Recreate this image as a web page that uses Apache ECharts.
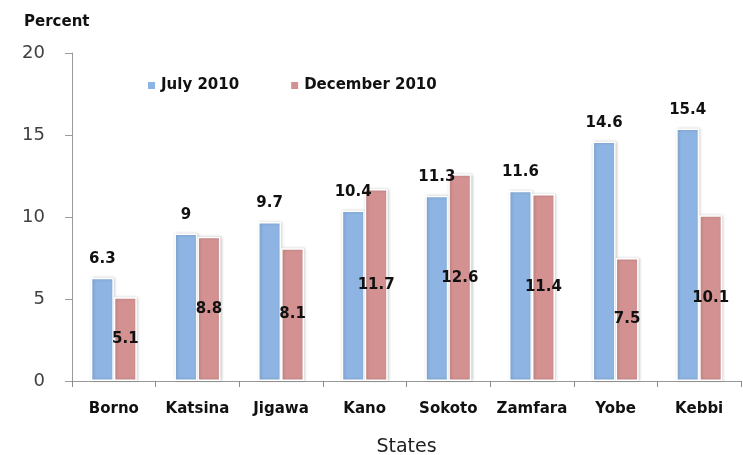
<!DOCTYPE html>
<html>
<head>
<meta charset="utf-8">
<script src="https://cdn.jsdelivr.net/npm/echarts@6/dist/echarts.min.js"></script>
<style>
html,body{margin:0;padding:0;background:#fff;}
#main{width:743px;height:455px;}
</style>
</head>
<body>
<div id="main"></div>
<script>
let states=["Borno","Katsina","Jigawa","Kano","Sokoto","Zamfara","Yobe","Kebbi"];
let july=[6.3,9,9.7,10.4,11.3,11.6,14.6,15.4];
let december=[5.1,8.8,8.1,11.7,12.6,11.4,7.5,10.1];
let yTicks=[0,5,10,15,20];

let font="DejaVu Sans";
let myChart=echarts.init(document.getElementById("main"));

let barStyle=function(color){
    return {
        color:color,
        borderColor:"#fff",
        borderWidth:1.5,
        shadowColor:"rgba(0,0,0,0.2)",
        shadowBlur:3,
        shadowOffsetX:1,
        shadowOffsetY:0
    };
};

let option={
    backgroundColor:"#fff",
    animation:false,
    textStyle:{fontFamily:font},
    title:{
        text:"Percent",
        left:19,
        top:10,
        textStyle:{fontFamily:font,fontWeight:"bold",fontSize:15,color:"#111"}
    },
    legend:{
        left:141,
        top:73,
        itemWidth:9,
        itemHeight:9,
        itemGap:50,
        icon:"rect",
        textStyle:{fontFamily:font,fontWeight:"bold",fontSize:15,color:"#111"},
        data:["July 2010","December 2010"]
    },
    grid:{left:72,right:2,top:53,bottom:74,outerBoundsMode:"none"},
    xAxis:{
        type:"category",
        data:states,
        name:"States",
        nameLocation:"middle",
        nameGap:57,
        nameTextStyle:{fontFamily:font,fontSize:19,color:"#222"},
        axisLine:{lineStyle:{color:"#9a9a9a",width:1}},
        axisTick:{show:true,length:6,interval:0,lineStyle:{color:"#8a8a8a"}},
        axisLabel:{interval:0,margin:21,fontFamily:font,fontWeight:"bold",fontSize:15,color:"#111"}
    },
    yAxis:{
        type:"value",
        min:0,
        max:20,
        interval:5,
        splitLine:{show:false},
        axisLine:{show:true,lineStyle:{color:"#9a9a9a",width:1}},
        axisTick:{show:true,length:7,lineStyle:{color:"#9a9a9a"}},
        axisLabel:{
            margin:27,
            fontFamily:font,
            fontSize:18,
            color:"#404040",
            formatter:function(v){return yTicks.indexOf(v)>=0?String(v):"";}
        }
    },
    series:[{
        name:"July 2010",
        type:"bar",
        data:july,
        barWidth:23,
        barGap:"0%",
        itemStyle:barStyle("#8db4e2"),
        label:{
            show:true,
            position:"top",
            distance:11,
            fontFamily:font,
            fontWeight:"bold",
            fontSize:15,
            color:"#111"
        }
    },{
        name:"December 2010",
        type:"bar",
        data:december,
        barWidth:23,
        barGap:"0%",
        itemStyle:barStyle("#d39291"),
        label:{
            show:true,
            position:"inside",
            fontFamily:font,
            fontWeight:"bold",
            fontSize:15,
            color:"#111"
        }
    }]
};

myChart.setOption(option);
</script>
</body>
</html>
